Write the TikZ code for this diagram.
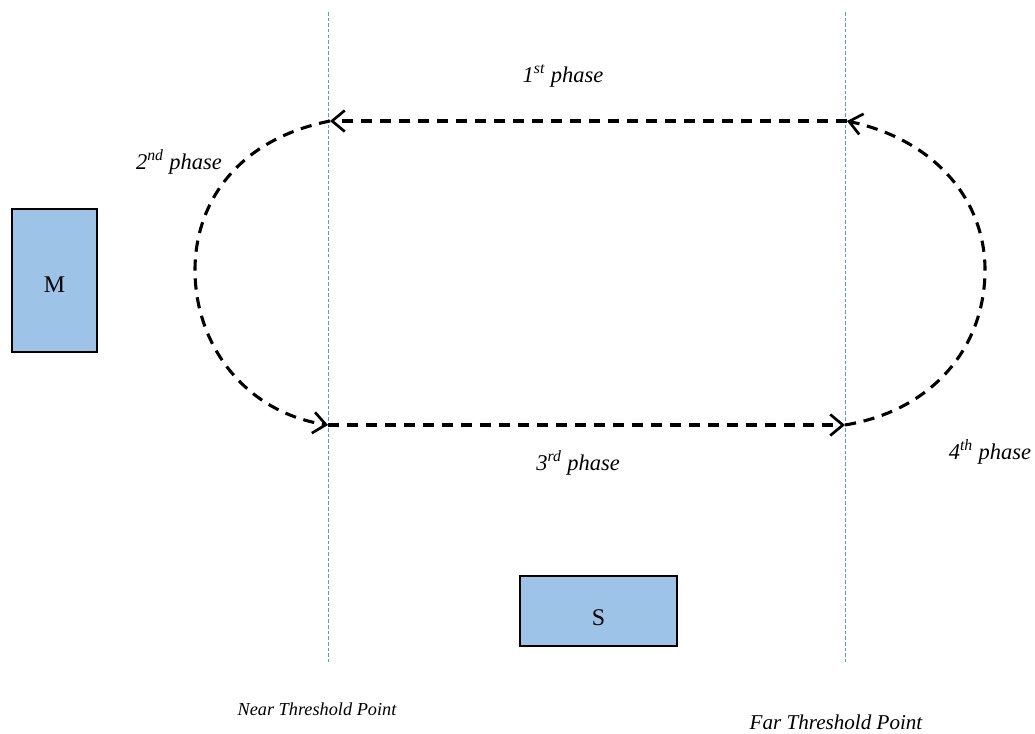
\documentclass[tikz,border=0pt]{standalone}
\usepackage{fontspec}
\setmainfont{Liberation Serif}
\usetikzlibrary{arrows.meta}
\definecolor{boxblue}{HTML}{9DC3E6}
\definecolor{guideblue}{HTML}{5B9BD5}
\tikzset{
  guide/.style={guideblue, line width=0.5pt, dash pattern=on 2.5pt off 1.5pt},
  phasepath/.style={black, line width=2.2pt, dash pattern=on 8pt off 5.5pt,
    -{Straight Barb[length=9pt, width=15pt, line width=1.9pt]}},
  device/.style={draw=black, line width=1.4pt, fill=boxblue},
  devlbl/.style={font=\fontsize{17}{19}\selectfont, inner sep=0pt},
  lbl/.style={font=\fontsize{16}{18}\selectfont\itshape, inner sep=0pt},
  place/.style={font=\fontsize{15}{17}\selectfont\itshape, inner sep=0pt}
}
\begin{document}
\begin{tikzpicture}[x=0.025cm, y=-0.025cm]
  \useasboundingbox (0,0) rectangle (1035,733);

  % threshold guide lines
  \coordinate (ntop) at (328,12);
  \coordinate (nbot) at (328,662);
  \coordinate (ftop) at (845,12);
  \coordinate (fbot) at (845,662);
  \draw[guide] (ntop) -- (nbot);
  \draw[guide] (ftop) -- (fbot);

  % loop corners
  \coordinate (nt) at (330,121);
  \coordinate (nb) at (328,425);
  \coordinate (ft) at (847,121);
  \coordinate (fb) at (845,425);

  % phases of the motion
  \draw[phasepath] (ft) -- (nt);
  \draw[phasepath] (nt) .. controls (235,140) and (195,205) .. (195,270)
                        .. controls (195,345) and (245,412) .. (nb);
  \draw[phasepath] (nb) -- (fb);
  \draw[phasepath] (fb) .. controls (935,410) and (985,345) .. (985,270)
                        .. controls (985,200) and (935,140) .. (ft);

  % devices
  \path (12,209) coordinate (m1) (97,352) coordinate (m2);
  \path (520,576) coordinate (s1) (677,646) coordinate (s2);
  \draw[device] (m1) rectangle (m2);
  \draw[device] (s1) rectangle (s2);
  \node[devlbl] (M) at (54.5,285) {M};
  \node[devlbl] (S) at (598.5,618) {S};

  % labels
  \node[lbl] (p1) at (563,76) {1\textsuperscript{st} phase};
  \node[lbl] (p2) at (179,162) {2\textsuperscript{nd} phase};
  \node[lbl] (p3) at (578,463) {3\textsuperscript{rd} phase};
  \node[lbl] (p4) at (990,452) {4\textsuperscript{th} phase};
  \node[place, font=\fontsize{13}{15}\selectfont\itshape] (near) at (317,709) {Near Threshold Point};
  \node[place] (far) at (836,722) {Far Threshold Point};
\end{tikzpicture}
\end{document}
